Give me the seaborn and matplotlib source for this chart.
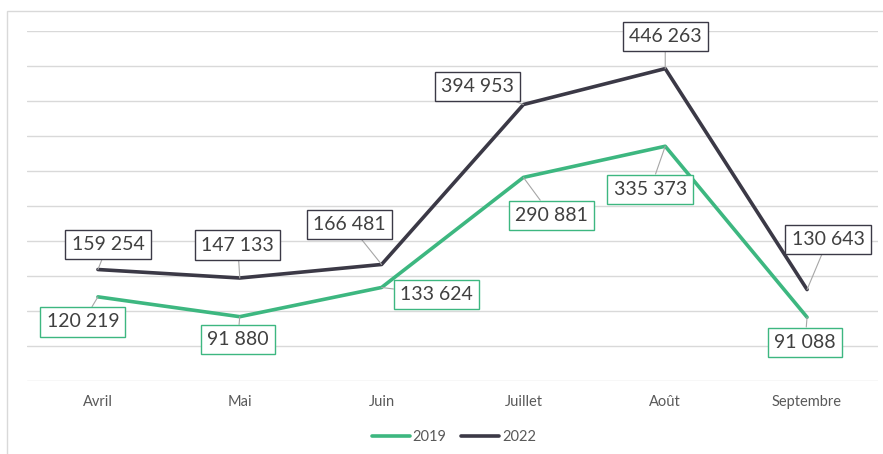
import pandas as pd
import matplotlib
matplotlib.use("Agg")
import matplotlib.pyplot as plt
from matplotlib.patches import Rectangle
import seaborn as sns

# data
mois = ["Avril", "Mai", "Juin", "Juillet", "Août", "Septembre"]
v2019 = [120219, 91880, 133624, 290881, 335373, 91088]
v2022 = [159254, 147133, 166481, 394953, 446263, 130643]

# label offsets (pixels) from each point to its box centre
off2019 = [(-15, -25), (-2, -23), (55, -7), (28, -38), (-15, -43), (-2, -25)]
off2022 = [(10, 25), (-2, 33), (-32, 40), (-46, 18), (0, 32), (21, 50)]

GREEN = "#3DB780"
DARK = "#3B3946"

df = pd.DataFrame({
    "mois": mois * 2,
    "valeur": v2019 + v2022,
    "annee": ["2019"] * len(mois) + ["2022"] * len(mois),
})

sns.set_theme(style="white")
plt.rcParams["font.family"] = ["Lato", "DejaVu Sans"]

fig = plt.figure(figsize=(8.83, 4.54), dpi=100)
ax = fig.add_axes([0.0306, 0.1608, 0.9637, 0.7709])

sns.lineplot(data=df, x="mois", y="valeur", hue="annee",
             palette={"2019": GREEN, "2022": DARK}, linewidth=2.6,
             sort=False, ax=ax, legend=True)

ax.set_xlim(-0.5, len(mois) - 0.5)
ax.set_ylim(0, 500000)
ax.set_yticks(range(0, 500001, 50000))
ax.yaxis.grid(True, color="#d9d9d9", lw=1)
ax.set_yticklabels([])
ax.tick_params(axis="y", length=0)
ax.tick_params(axis="x", length=0, pad=10, labelsize=10.5, labelcolor="#595959")
ax.set_xlabel("")
ax.set_ylabel("")
for s in ax.spines.values():
    s.set_visible(False)

def fmt(v):
    return f"{v:,}".replace(",", " ")

for vals, offs, col in [(v2019, off2019, GREEN), (v2022, off2022, DARK)]:
    for m, v, (dx, dy) in zip(mois, vals, offs):
        ax.annotate(fmt(v), xy=(m, v), xytext=(dx, dy), textcoords="offset pixels",
                    ha="center", va="center", fontsize=14, color="#404040",
                    bbox=dict(boxstyle="square,pad=0.32", fc="white", ec=col, lw=1),
                    arrowprops=dict(arrowstyle="-", color="#a6a6a6", lw=0.8,
                                    shrinkA=0, shrinkB=0))

ax.get_legend().remove()
h, l = ax.get_legend_handles_labels()
fig.legend(h, l, loc="center", bbox_to_anchor=(0.514, 0.037), ncol=2, frameon=False,
           fontsize=10.5, handlelength=2.6, handletextpad=0.2, columnspacing=1.0,
           labelcolor="#595959")

# outer chart frame (only top/left visible in the crop)
fig.add_artist(Rectangle((7 / 883, -0.05), 1.0, 0.05 + 1 - 11 / 454,
                         transform=fig.transFigure, fill=False,
                         edgecolor="#d9d9d9", lw=1, clip_on=False))

fig.savefig("out.png", dpi=100)
